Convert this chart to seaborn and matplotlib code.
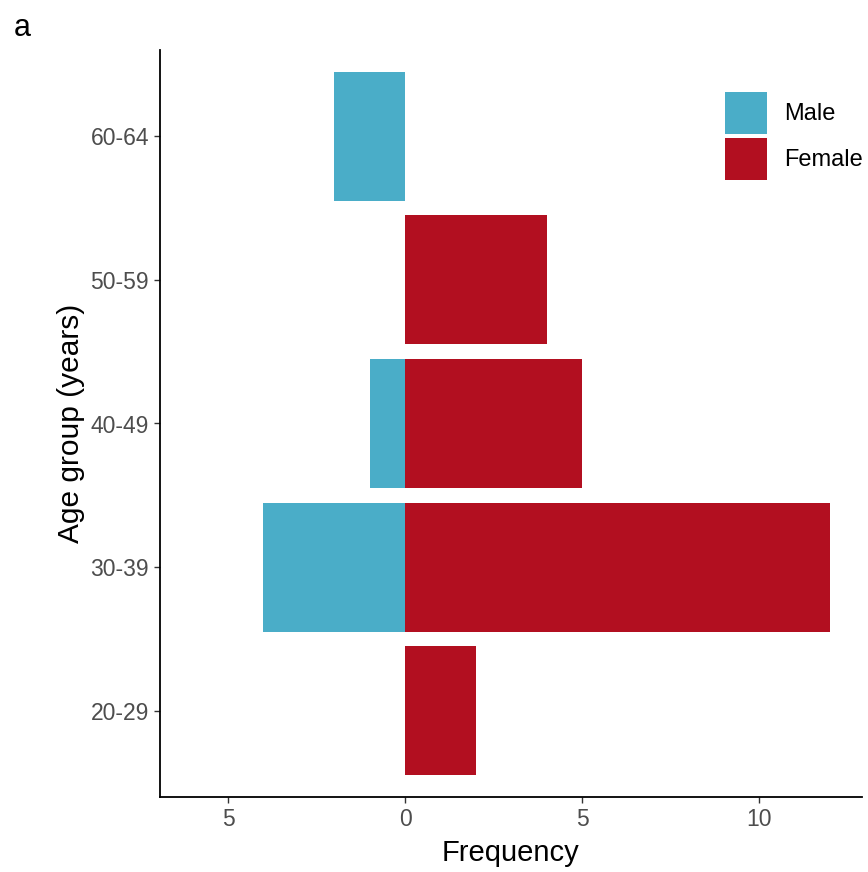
import matplotlib
matplotlib.use("Agg")
import matplotlib.pyplot as plt
import seaborn as sns
import pandas as pd
import numpy as np

age_groups = ["60-64", "50-59", "40-49", "30-39", "20-29"]
male = [2, 0, 1, 4, 0]
female = [0, 4, 5, 12, 2]
sexes = ["Male", "Female"]
colors = {"Male": "#4AADC8", "Female": "#B20F20"}

rows = []
for g, m, f in zip(age_groups, male, female):
    if m:
        rows.append({"age": g, "sex": "Male", "freq": -m})
    if f:
        rows.append({"age": g, "sex": "Female", "freq": f})
df = pd.DataFrame(rows)

sns.set_style("white")
plt.rcParams["font.family"] = ["Liberation Sans", "DejaVu Sans"]

fig = plt.figure(figsize=(8.68, 8.72), dpi=100)
ax = fig.add_axes([160/868, 1-797/872, (862-160)/868, (797-50)/872])

sns.barplot(data=df, y="age", x="freq", hue="sex", order=age_groups,
            hue_order=sexes, palette=colors, dodge=False, width=0.9,
            orient="h", ax=ax, saturation=1, edgecolor="none", linewidth=0)

ax.set_xlim(-6.92, 12.9)
ax.set_ylim(4.6, -0.6)
ax.set_xticks([-5, 0, 5, 10])
ax.set_xticklabels(["5", "0", "5", "10"])
ax.tick_params(axis="both", labelsize=16.5, labelcolor="#4D4D4D", color="#333333",
               length=4, width=1, left=True, bottom=True, pad=4)
ax.set_xlabel("Frequency", fontsize=21, color="black", labelpad=6)
ax.set_ylabel("Age group (years)", fontsize=21.5, color="black", labelpad=4)
for s in ["top", "right"]:
    ax.spines[s].set_visible(False)
for s in ["left", "bottom"]:
    ax.spines[s].set_color("black")
    ax.spines[s].set_linewidth(1.3)

handles, labels = ax.get_legend_handles_labels()
ax.legend(handles, labels, loc="upper left", bbox_to_anchor=(725/868, 1-92/872),
          bbox_transform=fig.transFigure, frameon=False, fontsize=17,
          handlelength=1.78, handleheight=2.36, labelspacing=0.17,
          handletextpad=0.72, borderpad=0, borderaxespad=0, labelcolor="black")

fig.text(14/868, 1-36/872, "a", fontsize=22, color="black")

fig.savefig("out.png", dpi=100)
